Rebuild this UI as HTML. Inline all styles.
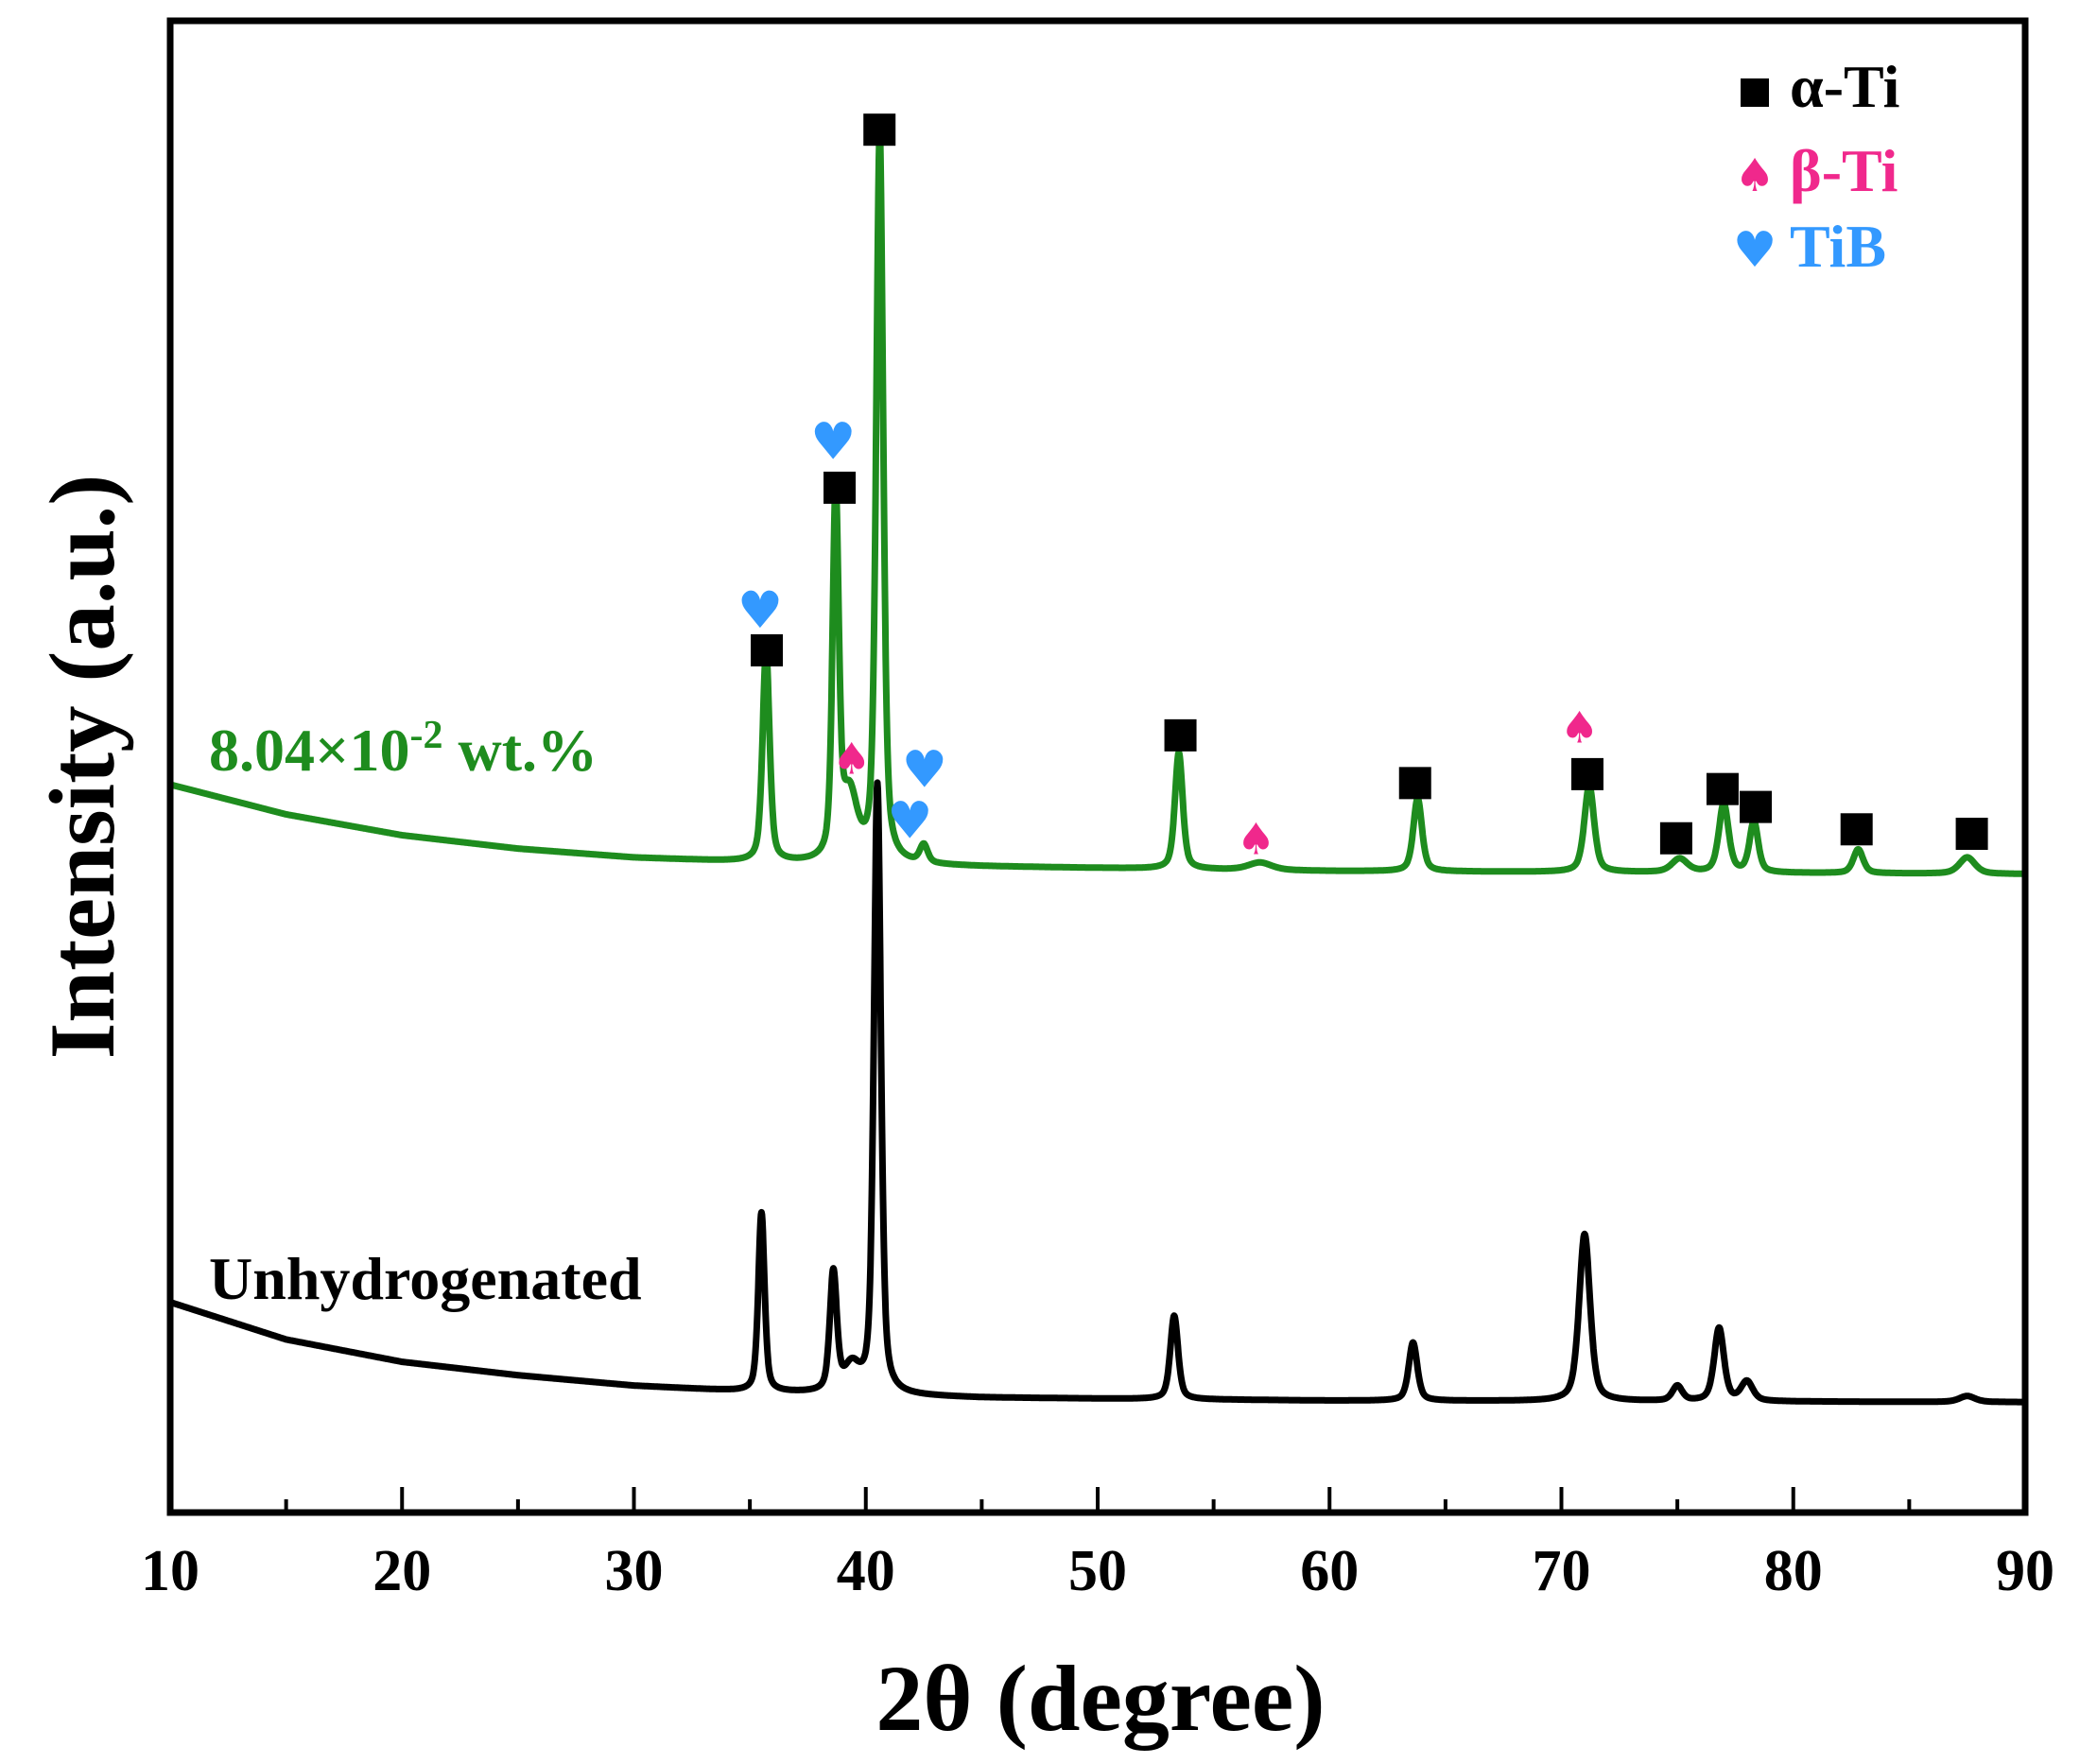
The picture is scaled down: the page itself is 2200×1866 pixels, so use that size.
<!DOCTYPE html>
<html><head><meta charset="utf-8"><style>
html,body{margin:0;padding:0;background:#fff}
svg{display:block}
text{font-family:"Liberation Serif",serif;font-weight:bold}
</style></head><body>
<svg id="chart" width="2200" height="1866" viewBox="0 0 2200 1866">
<rect x="0" y="0" width="2200" height="1866" fill="#fff"/>
<g id="series"></g>
<g id="markers"></g>
<rect x="180" y="22" width="1962" height="1578" fill="none" stroke="#000" stroke-width="7"/>
<g id="xaxis"></g>
<text x="1164" y="1830" font-size="100" text-anchor="middle">2θ (degree)</text>
<text x="0" y="0" font-size="99" text-anchor="middle" transform="translate(120,811) rotate(-90)">Intensity (a.u.)</text>
<text x="221" y="815" font-size="64" fill="#1e8c1e">8.04×10<tspan dy="-24" font-size="42">-2</tspan><tspan dy="24"> wt.%</tspan></text>
<text x="221" y="1374" font-size="64" fill="#000">Unhydrogenated</text>
<g>
<rect x="1841" y="83" width="30" height="30" fill="#000"/>
<text x="1893" y="113" font-size="64" fill="#000">α-Ti</text>
<text x="1856" y="202" font-size="48" fill="#f0288c" text-anchor="middle" style="font-family:'DejaVu Sans',sans-serif">♠</text>
<text x="1893" y="202" font-size="64" fill="#f0288c">β-Ti</text>
<text x="1856" y="282" font-size="52" fill="#3399ff" text-anchor="middle" style="font-family:'DejaVu Sans',sans-serif">♥</text>
<text x="1893" y="282" font-size="64" fill="#3399ff">TiB</text>
</g>
</svg>
<script>
// ---- data ----
const xTicks = [10,20,30,40,50,60,70,80,90];
const xMinorTicks = [15,25,35,45,55,65,75,85];
// baseline anchors [2θ, intensity]
const greenBaseX = [10,15,20,25,30,35,45,60,90];
const greenBaseY = [488,468,454,445,439,436,433,430,428];
const blackBaseX = [10,15,20,25,30,35,45,60,90];
const blackBaseY = [141,116,101,92,85,81,77,75,74];
// peaks: position, height, half width
const greenPeakPos = [35.7,38.7,39.3,40.6,42.5,53.5,57.0,63.8,71.2,75.1,77.0,78.3,82.8,87.5];
const greenPeakH   = [141,243,43,489,12,78,5,49,58,9,46,34,16,11];
const greenPeakW   = [0.18,0.16,0.4,0.18,0.2,0.2,0.6,0.22,0.25,0.4,0.25,0.22,0.25,0.4];
const blackPeakPos = [35.5,38.6,39.4,40.5,53.3,63.6,71.0,75.0,76.8,78.0,87.5];
const blackPeakH   = [120,80,17,409,56,39,112,10,49,13,4];
const blackPeakW   = [0.16,0.18,0.4,0.18,0.2,0.22,0.28,0.25,0.25,0.3,0.4];
// phase markers [2θ, intensity]
const alphaX = [35.73,38.87,40.59,53.57,63.69,71.12,74.95,76.95,78.38,82.73,87.70];
const alphaY = [578,687,927,521,489,495,452,485,473,458,455];
const tibX = [35.44,38.59,42.53,41.90];
const tibY = [604,717,497,463];
const betaX = [39.39,56.83,70.78];
const betaY = [506,452,527];

// ---- axes ----
const X0=180,X1=2142,Y0=1600,Y1=22;
function sx(t){return X0+(t-10)/80*(X1-X0);}
function sy(v){return Y0-v/1000*(Y0-Y1);}
const NS='http://www.w3.org/2000/svg';
function mk(tag,attrs,parent){const e=document.createElementNS(NS,tag);for(const k in attrs)e.setAttribute(k,attrs[k]);parent.appendChild(e);return e;}

const xa=document.getElementById('xaxis');
xTicks.forEach(t=>{
  if(t>10&&t<90){
    const l=mk('line',{x1:sx(t),x2:sx(t),y1:Y0,y2:Y0-27,stroke:'#000','stroke-width':4},xa);
    
    
  }
  const tx=mk('text',{x:sx(t),y:1682,'font-size':62,'text-anchor':'middle'},xa);
  tx.textContent=t;
  
  
});
xMinorTicks.forEach(t=>{
  const l=mk('line',{x1:sx(t),x2:sx(t),y1:Y0,y2:Y0-14,stroke:'#000','stroke-width':4},xa);
  
  
});

function baseAt(t,bx,by){
  for(let i=0;i<bx.length-1;i++){
    if(t>=bx[i]&&t<=bx[i+1]){const f=(t-bx[i])/(bx[i+1]-bx[i]);return by[i]+f*(by[i+1]-by[i]);}
  }
  return by[by.length-1];
}
function curve(bx,by,pp,ph,pw){
  let d='';
  for(let t=10;t<=90.0001;t+=0.02){
    let v=baseAt(t,bx,by);
    for(let i=0;i<pp.length;i++){
      const u=(t-pp[i])/pw[i];
      v+=ph[i]*(0.5/(1+u*u)+0.5*Math.exp(-0.693*u*u));
    }
    d+=(d?'L':'M')+sx(t).toFixed(1)+','+sy(v).toFixed(1);
  }
  return d;
}
const sg=document.getElementById('series');
const pb=mk('path',{d:curve(blackBaseX,blackBaseY,blackPeakPos,blackPeakH,blackPeakW),fill:'none',stroke:'#000','stroke-width':7,'stroke-linejoin':'round'},sg);


const pg=mk('path',{d:curve(greenBaseX,greenBaseY,greenPeakPos,greenPeakH,greenPeakW),fill:'none',stroke:'#1e8c1e','stroke-width':7,'stroke-linejoin':'round'},sg);



const mg=document.getElementById('markers');
alphaX.forEach((t,i)=>{
  const r=mk('rect',{x:sx(t)-17,y:sy(alphaY[i])-17,width:34,height:34,fill:'#000'},mg);
  
  
});
tibX.forEach((t,i)=>{
  const tx=mk('text',{x:sx(t),y:sy(tibY[i])+17,'font-size':54,fill:'#3399ff','text-anchor':'middle',style:"font-family:'DejaVu Sans',sans-serif"},mg);
  tx.textContent='♥';
  
  
});
betaX.forEach((t,i)=>{
  const tx=mk('text',{x:sx(t),y:sy(betaY[i])+17,'font-size':46,fill:'#f0288c','text-anchor':'middle',style:"font-family:'DejaVu Sans',sans-serif"},mg);
  tx.textContent='♠';
  
  
});
</script>
</body></html>
